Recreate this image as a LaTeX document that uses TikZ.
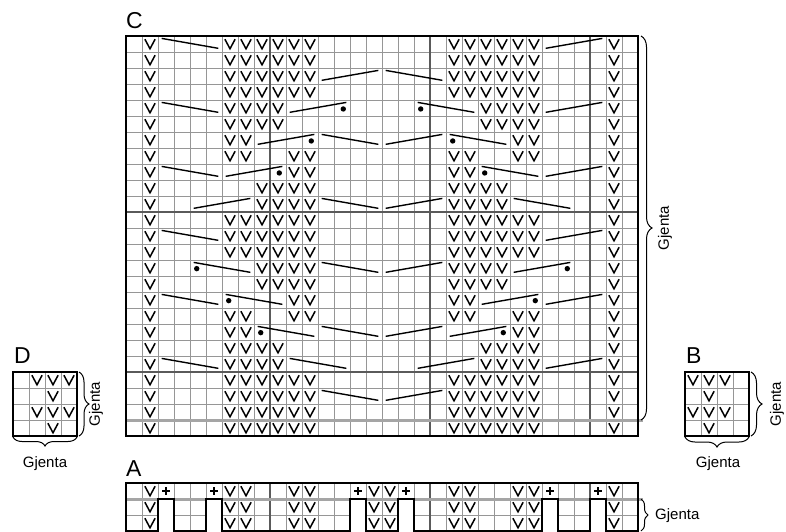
\documentclass[tikz,border=0pt]{standalone}
\usepackage{fontspec}
\setmainfont{Liberation Sans}
\usepackage{xcolor}
\definecolor{rutegra}{RGB}{150, 150, 150}
\definecolor{rutemork}{RGB}{90, 90, 90}
\definecolor{rutelys}{RGB}{165, 165, 165}
\usetikzlibrary{decorations.pathreplacing}

\begin{document}
\begin{tikzpicture}[x=1pt, y=-1pt,
    tynn/.style={rutegra, line width=1pt},
    mork/.style={rutemork, line width=1.2pt},
    ramme/.style={line width=2.8pt, line join=miter},
    vstil/.style={line width=1.5pt, line join=miter},
    fell/.style={line width=1.4pt},
    gjenta/.style={decorate, decoration={brace, amplitude=#1}, line width=1pt},
    bokstav/.style={font=\fontsize{23}{27}\selectfont, anchor=base west, inner sep=0pt},
    merke/.style={font=\fontsize{15}{18}\selectfont, inner sep=0pt}]

\useasboundingbox (0,0) rectangle (786,531);

% === Diagram C ===
\node[bokstav] (bokstavC) at (126,28) {C};
\begin{scope}[xshift=126pt, yshift=-36pt, x=16pt, y=-16pt]
    % Rutenett
    \foreach \i in {0,...,32} \draw[tynn] (\i,0) -- (\i,25);
    \foreach \j in {0,...,25} \draw[tynn] (0,\j) -- (32,\j);
    \foreach \i in {9,19,29} \draw[mork] (\i,0) -- (\i,25);
    \foreach \j in {11,21} \draw[mork] (0,\j) -- (32,\j);
    \draw[rutelys, line width=3pt] (0,24) -- (32.3,24);

    % Venstre halvdel, speilvendt for hoyre halvdel
    \foreach \s/\dx in {1/0, -1/512} {
    \begin{scope}[xshift=\dx pt, xscale=\s]
        \foreach \r in {1,...,25}
            \draw[vstil] (1.18,\r-0.8) -- (1.5,\r-0.2) -- (1.82,\r-0.8);
        \foreach \r/\a/\b in {1/7/12, 2/7/12, 3/7/12, 4/7/12, 5/7/10, 6/7/10,
                7/7/8, 8/7/8, 8/11/12, 9/11/12, 10/9/12, 11/9/12, 12/7/12,
                13/7/12, 14/7/12, 15/9/12, 16/9/12, 17/11/12, 18/7/8, 18/11/12,
                19/7/8, 20/7/10, 21/7/10, 22/7/12, 23/7/12, 24/7/12, 25/7/12}
            \foreach \c in {\a,...,\b}
                \draw[vstil] (\c-0.82,\r-0.8) -- (\c-0.5,\r-0.2) -- (\c-0.18,\r-0.8);

        % Fellinger
        \foreach \r/\a/\b in {1/3/6, 5/3/6, 9/3/6, 13/3/6, 17/3/6, 21/3/6,
                7/13/16, 11/13/16, 15/13/16, 19/13/16, 23/13/16,
                15/5/8, 17/7/10, 19/9/12, 21/11/14}
            \draw[fell] (\a-0.77,\r-0.85) -- (\b-0.23,\r-0.23);
        \foreach \r/\a/\b in {3/13/16, 5/11/14, 7/9/12, 9/7/10, 11/5/8}
            \draw[fell] (\a-0.77,\r-0.23) -- (\b-0.23,\r-0.85);

        % Prikker
        \foreach \c/\r in {14/5, 12/7, 10/9}
            \fill (\c-0.42,\r-0.44) circle (2.7pt);
        \foreach \c/\r in {5/15, 7/17, 9/19}
            \fill (\c-0.58,\r-0.46) circle (2.7pt);
    \end{scope}
    }

    \draw[ramme] (0,0) rectangle (32,25);
\end{scope}
\draw[gjenta=11pt] (641,36) -- (641,420);
\node[merke, rotate=90] (gjentaC) at (665,228) {Gjenta};

% === Diagram D ===
\node[bokstav] (bokstavD) at (14,363) {D};
\begin{scope}[xshift=13pt, yshift=-372pt, x=16pt, y=-16pt]
    \foreach \i in {0,...,4} \draw[tynn] (\i,0) -- (\i,4);
    \foreach \i in {0,...,4} \draw[tynn] (0,\i) -- (4,\i);
    \foreach \c/\r in {2/1, 3/1, 4/1, 3/2, 2/3, 3/3, 4/3, 3/4}
        \draw[vstil] (\c-0.82,\r-0.8) -- (\c-0.5,\r-0.2) -- (\c-0.18,\r-0.8);
    \draw[ramme] (0,0) rectangle (4,4);
\end{scope}
\draw[gjenta=10pt] (79,372) -- (79,436);
\node[merke, rotate=90] (gjentaDside) at (96,404) {Gjenta};
\draw[gjenta=9pt] (77,437) -- (13,437);
\node[merke] (gjentaDbunn) at (45,464) {Gjenta};

% === Diagram B ===
\node[bokstav] (bokstavB) at (686,363) {B};
\begin{scope}[xshift=685pt, yshift=-372pt, x=16pt, y=-16pt]
    \foreach \i in {0,...,4} \draw[tynn] (\i,0) -- (\i,4);
    \foreach \i in {0,...,4} \draw[tynn] (0,\i) -- (4,\i);
    \foreach \c/\r in {1/1, 2/1, 3/1, 2/2, 1/3, 2/3, 3/3, 2/4}
        \draw[vstil] (\c-0.82,\r-0.8) -- (\c-0.5,\r-0.2) -- (\c-0.18,\r-0.8);
    \draw[ramme] (0,0) rectangle (4,4);
\end{scope}
\draw[gjenta=11pt] (751,372) -- (751,436);
\node[merke, rotate=90] (gjentaBside) at (777,404) {Gjenta};
\draw[gjenta=10pt] (749,437) -- (685,437);
\node[merke] (gjentaBbunn) at (718,464) {Gjenta};

% === Diagram A ===
\node[bokstav] (bokstavA) at (126,476) {A};
\begin{scope}[xshift=126pt, yshift=-483pt, x=16pt, y=-16pt]
    \foreach \i in {0,...,32} \draw[tynn] (\i,0) -- (\i,3);
    \foreach \j in {0,...,3} \draw[tynn] (0,\j) -- (32,\j);
    \foreach \i in {9,19,29} \draw[mork] (\i,0) -- (\i,3);
    \draw[rutelys, line width=3pt] (0,1) -- (32.3,1);

    % Ingen maske
    \foreach \c in {3,6,15,18,27,30} {
        \fill[white] (\c-1,1) rectangle (\c,3.3);
        \draw[vstil] (\c-0.5,0.28) -- (\c-0.5,0.72) (\c-0.72,0.5) -- (\c-0.28,0.5);
    }
    \foreach \r in {1,2,3}
        \foreach \c in {2,7,8,11,12,16,17,21,22,25,26,31}
            \draw[vstil] (\c-0.82,\r-0.8) -- (\c-0.5,\r-0.2) -- (\c-0.18,\r-0.8);

    \draw[ramme] (0,3) -- (0,0) -- (32,0) -- (32,3) -- (30,3) -- (30,1) -- (29,1)
        -- (29,3) -- (27,3) -- (27,1) -- (26,1) -- (26,3) -- (18,3) -- (18,1)
        -- (17,1) -- (17,3) -- (15,3) -- (15,1) -- (14,1) -- (14,3) -- (6,3)
        -- (6,1) -- (5,1) -- (5,3) -- (3,3) -- (3,1) -- (2,1) -- (2,3) -- cycle;
\end{scope}
\draw[gjenta=7pt] (641,499) -- (641,531);
\node[merke, anchor=west] (gjentaA) at (655,516) {Gjenta};

\end{tikzpicture}
\end{document}
